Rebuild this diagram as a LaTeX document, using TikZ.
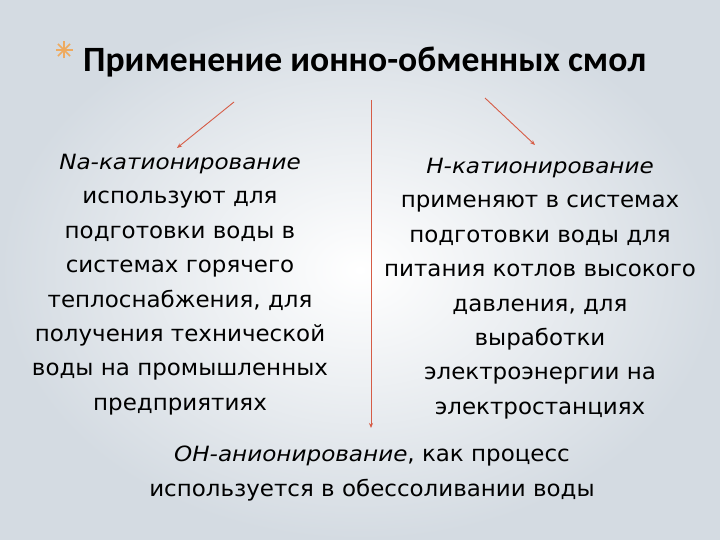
\documentclass[tikz,border=0pt]{standalone}
\usepackage{fontspec}
\setmainfont{Carlito}
\newfontfamily\bodyfont[FakeStretch=1.03]{DejaVu Sans}
\newfontfamily\itfont[FakeStretch=1.1]{DejaVu Sans Oblique}
\usetikzlibrary{arrows.meta}
\definecolor{arrowred}{RGB}{214,92,70}
\definecolor{star}{RGB}{238,170,95}
\definecolor{edgegray}{RGB}{212,219,226}
\tikzset{
  body/.style={align=center, font=\bodyfont\fontsize{22.3}{34.4}\selectfont, text=black, inner sep=0pt},
  conn/.style={draw=arrowred, line width=0.9pt, -{Stealth[length=5pt,width=4pt]}},
  spoke/.style={draw=star, line width=1.5pt}
}
\newcommand{\itl}[1]{{\itfont\fontsize{21}{34.4}\selectfont #1}}
\begin{document}
\begin{tikzpicture}[x=1pt,y=-1pt]
\useasboundingbox (0,0) rectangle (720,540);
\shade[inner color=white, outer color=edgegray] (0,0) rectangle (720,540);
\coordinate (star) at (64,50);
\foreach \a in {0,45,90,135} {\draw[spoke] (star) ++(\a:8.5) -- ++(\a+180:17);}
\node[anchor=base west, inner sep=0pt, font=\bfseries\fontsize{35.6}{35.6}\selectfont] (title) at (83,72) {Применение ионно-обменных смол};
\coordinate (la) at (234,102);
\coordinate (ma) at (371,100);
\coordinate (ra) at (485,98);
\node[body, anchor=north] (left) at (180,154) {\itl{Na-катионирование}\\используют для\\подготовки воды в\\системах горячего\\теплоснабжения, для\\получения технической\\воды на промышленных\\предприятиях};
\node[body, anchor=north] (right) at (540,158) {\itl{H-катионирование}\\применяют в системах\\подготовки воды для\\питания котлов высокого\\давления, для\\выработки\\электроэнергии на\\электростанциях};
\node[body, anchor=north] (bottom) at (372,446) {\itl{OH-анионирование}, как процесс\\используется в обессоливании воды};
\draw[conn] (la) -- (177,148);
\draw[conn] (ra) -- (535,145);
\draw[conn] (ma) -- (371,428);
\end{tikzpicture}
\end{document}
